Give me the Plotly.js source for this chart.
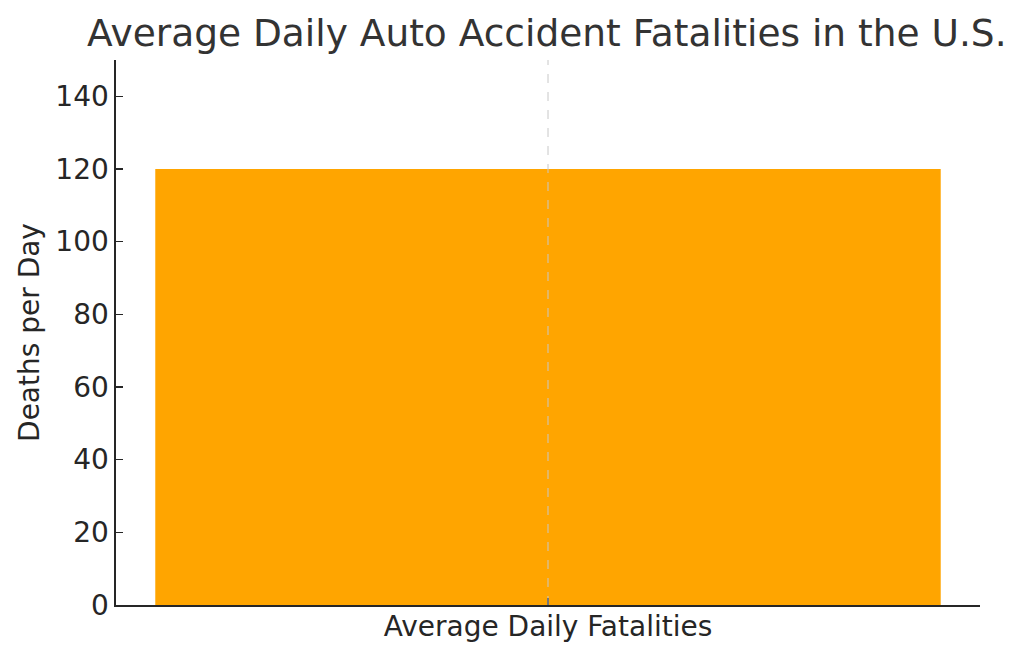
<!DOCTYPE html>
<html>
<head>
<meta charset="utf-8">
<script src="https://cdn.plot.ly/plotly-3.0.1.min.js"></script>
<style>html,body{margin:0;padding:0;background:#fff;}#chart{width:1024px;height:658px;}</style>
</head>
<body>
<div id="chart"></div>
<script>
const categories = ["Average Daily Fatalities"];
const deathsPerDay = [120];
const yTickValues = [0, 20, 40, 60, 80, 100, 120, 140];

const font = "DejaVu Sans, sans-serif";
const textColor = "#262626";

const data = [{
  type: "bar",
  x: categories,
  y: deathsPerDay,
  width: 0.8,
  marker: {color: "#FFA500", line: {width: 0}},
  hoverinfo: "x+y"
}];

// vertical dashed gridline at each category, drawn above the bar like the reference
const gridShapes = categories.map(c => ({
  type: "line", xref: "x", yref: "paper",
  x0: c, x1: c, y0: 0, y1: 1,
  layer: "above",
  line: {color: "#c8c8c8", width: 1, dash: "dash"}
}));

const layout = {
  width: 1024,
  height: 658,
  margin: {l: 116, r: 44, t: 60, b: 53, pad: 0},
  paper_bgcolor: "#ffffff",
  plot_bgcolor: "#ffffff",
  showlegend: false,
  font: {family: font, color: textColor},
  title: {
    text: "Average Daily Auto Accident Fatalities in the U.S.",
    font: {family: font, size: 37.5, color: "#333333"},
    x: 0.534, xanchor: "center",
    y: 0.97, yanchor: "top"
  },
  shapes: gridShapes,
  xaxis: {
    type: "category",
    range: [-0.44, 0.44],
    showline: true, linecolor: textColor, linewidth: 1.6,
    ticks: "inside", ticklen: 7, tickwidth: 1.3, tickcolor: textColor,
    ticklabelstandoff: -4,
    showgrid: false,
    layer: "above traces",
    tickfont: {family: font, size: 28, color: textColor},
    zeroline: false,
    fixedrange: true
  },
  yaxis: {
    range: [0, 150],
    tickvals: yTickValues,
    ticktext: yTickValues.map(String),
    showline: true, linecolor: textColor, linewidth: 1.6,
    ticks: "inside", ticklen: 7, tickwidth: 1.3, tickcolor: textColor,
    showgrid: false, zeroline: false,
    layer: "above traces",
    tickfont: {family: font, size: 28, color: textColor},
    title: {text: "Deaths per Day", font: {family: font, size: 28, color: textColor}, standoff: 7},
    fixedrange: true
  },
  bargap: 0.2
};

Plotly.newPlot("chart", data, layout, {displayModeBar: false, staticPlot: true});
</script>
</body>
</html>
